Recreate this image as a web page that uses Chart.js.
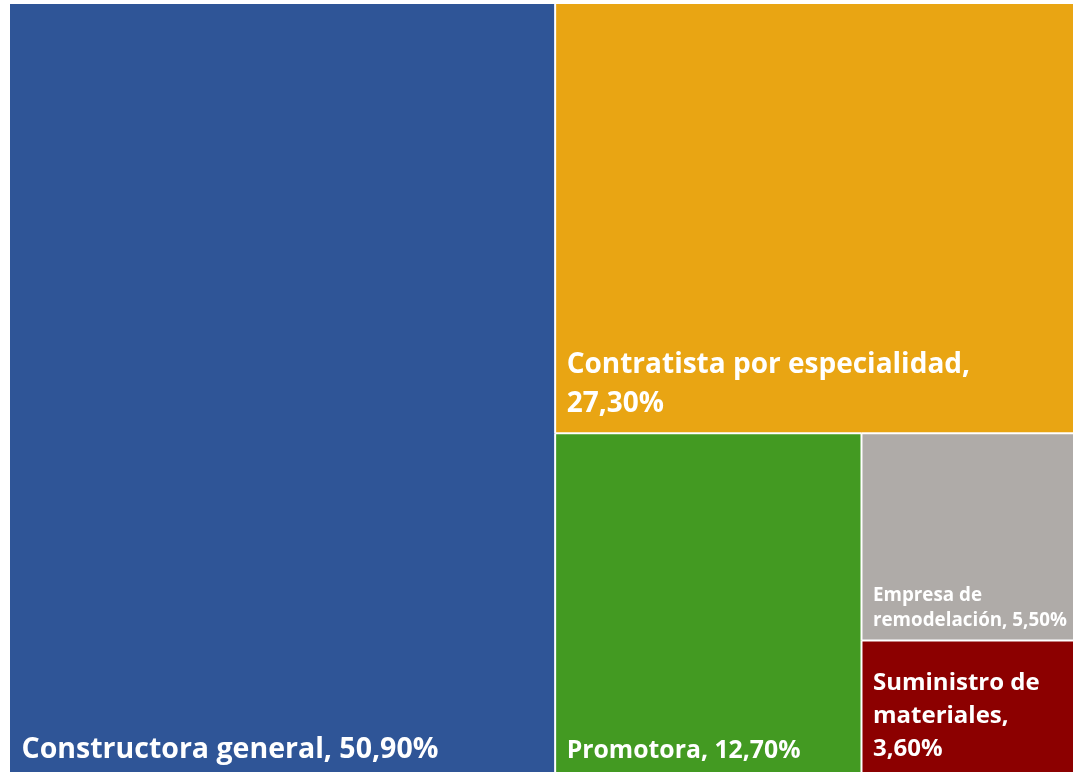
<!DOCTYPE html>
<html>
<head>
<meta charset="utf-8">
<script src="https://cdn.jsdelivr.net/npm/chart.js@4"></script>
<style>
  html, body { margin: 0; padding: 0; background: #fff; overflow: hidden; }
  #wrap { width: 1081px; height: 776px; }
</style>
</head>
<body>
<div id="wrap"><canvas id="chart"></canvas></div>
<script>
// treemap data
const categories = ['Constructora general', 'Contratista por especialidad', 'Promotora', 'Empresa de remodelación', 'Suministro de materiales'];
const values = [50.9, 27.3, 12.7, 5.5, 3.6];
const labelLines = [
  ['Constructora general, 50,90%'],
  ['Contratista por especialidad,', '27,30%'],
  ['Promotora, 12,70%'],
  ['Empresa de', 'remodelación, 5,50%'],
  ['Suministro de', 'materiales,', '3,60%']
];

const colors = ['#2F5597', '#E9A513', '#439A22', '#AFABA8', '#8C0000'];
const fontSizes = [28.5, 28, 24.8, 18.8, 24];
const lineHeights = [34, 39, 28, 25, 33];
const bottomPad = [18, 21, 18, 14, 20];

// slice-and-dice layout in data units (0..100 both axes), alternating direction
function layout(vals) {
  let x0 = 0, y0 = 0, x1 = 100, y1 = 100;
  let remaining = vals.reduce((a, b) => a + b, 0);
  const cells = [];
  vals.forEach((v, i) => {
    const f = v / remaining;
    if (i === vals.length - 1) {
      cells.push({ x0, y0, x1, y1 });
    } else if (i % 2 === 0) {
      const xm = x0 + (x1 - x0) * f;
      cells.push({ x0, y0, x1: xm, y1 });
      x0 = xm;
    } else {
      const ym = y0 + (y1 - y0) * f;
      cells.push({ x0, y0, x1, y1: ym });
      y0 = ym;
    }
    remaining -= v;
  });
  return cells;
}

const cells = layout(values);

const treemapPlugin = {
  id: 'treemap',
  afterDatasetsDraw(chart) {
    const { ctx, scales: { x, y } } = chart;
    ctx.save();
    cells.forEach((c, i) => {
      const left = x.getPixelForValue(c.x0);
      const right = x.getPixelForValue(c.x1);
      const top = y.getPixelForValue(c.y0);
      const bottom = y.getPixelForValue(c.y1);
      ctx.fillStyle = colors[i];
      ctx.fillRect(left, top, right - left, bottom - top);
      ctx.strokeStyle = '#ffffff';
      ctx.lineWidth = 2;
      if (c.x0 > 0) { ctx.beginPath(); ctx.moveTo(left, top); ctx.lineTo(left, bottom); ctx.stroke(); }
      if (c.y0 > 0) { ctx.beginPath(); ctx.moveTo(left, top); ctx.lineTo(right, top); ctx.stroke(); }

      // label, bottom-left
      ctx.fillStyle = '#ffffff';
      ctx.font = 'bold ' + fontSizes[i] + 'px "Open Sans", Lato, sans-serif';
      ctx.textBaseline = 'alphabetic';
      ctx.textAlign = 'left';
      const lines = labelLines[i];
      lines.forEach((t, k) => {
        const yy = bottom - bottomPad[i] - (lines.length - 1 - k) * lineHeights[i];
        ctx.fillText(t, left + 11.5, yy);
      });
    });
    ctx.restore();
  }
};

new Chart(document.getElementById('chart'), {
  type: 'scatter',
  data: {
    datasets: [{
      label: 'Participación',
      data: categories.map((c, i) => ({ x: (cells[i].x0 + cells[i].x1) / 2, y: (cells[i].y0 + cells[i].y1) / 2 })),
      pointRadius: 0
    }]
  },
  options: {
    responsive: true,
    maintainAspectRatio: false,
    animation: false,
    layout: { padding: { left: 10, top: 4, right: 0, bottom: 0 } },
    plugins: { legend: { display: false }, tooltip: { enabled: false } },
    scales: {
      x: { type: 'linear', min: 0, max: 100, display: false },
      y: { type: 'linear', min: 0, max: 100, reverse: true, display: false }
    }
  },
  plugins: [treemapPlugin]
});
</script>
</body>
</html>
